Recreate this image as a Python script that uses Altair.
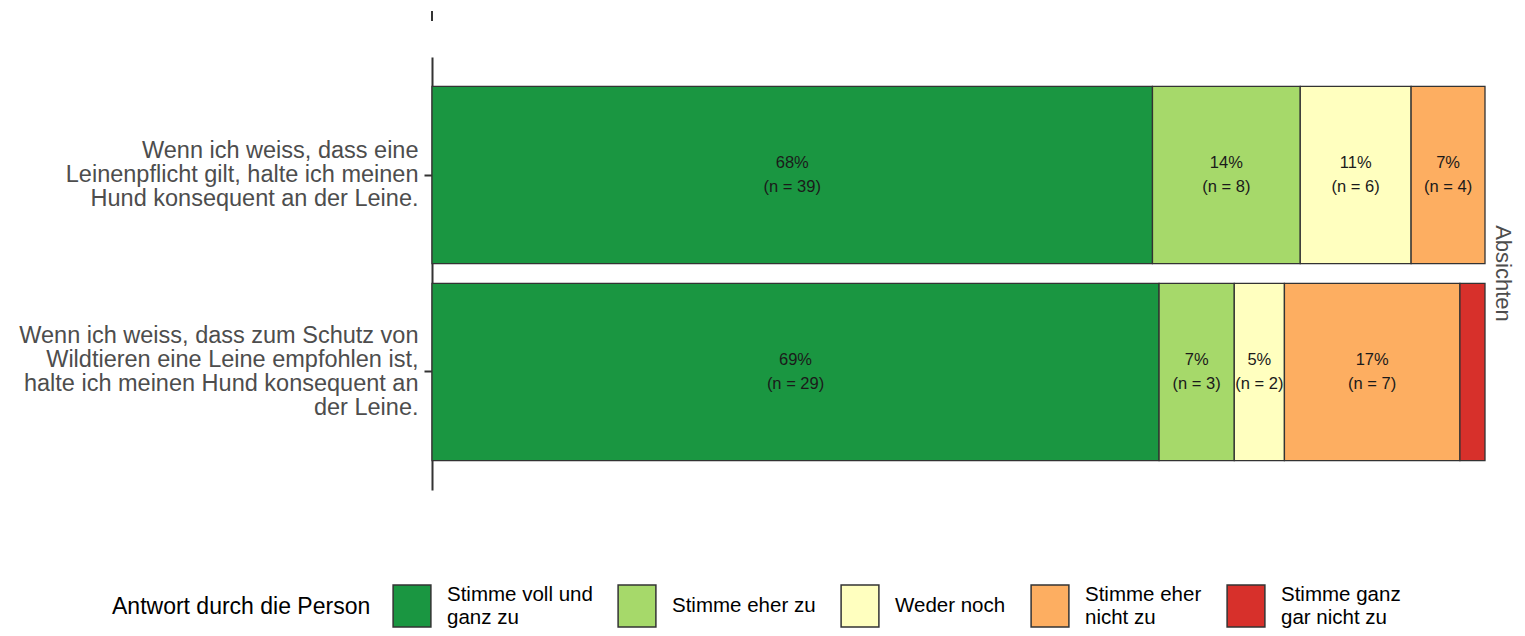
import json
import altair as alt
import pandas as pd

# ---- data ----
question_lines = [
    ["Wenn ich weiss, dass eine", "Leinenpflicht gilt, halte ich meinen", "Hund konsequent an der Leine."],
    ["Wenn ich weiss, dass zum Schutz von", "Wildtieren eine Leine empfohlen ist,",
     "halte ich meinen Hund konsequent an", "der Leine."],
]
questions = [" ".join(l) for l in question_lines]

categories = ["Stimme voll und ganz zu", "Stimme eher zu", "Weder noch",
              "Stimme eher nicht zu", "Stimme ganz gar nicht zu"]
legend_lines = [["Stimme voll und", "ganz zu"], ["Stimme eher zu"], ["Weder noch"],
                ["Stimme eher", "nicht zu"], ["Stimme ganz", "gar nicht zu"]]
colors = ["#1a9641", "#a6d96a", "#ffffbf", "#fdae61", "#d7302b"]

counts_q1 = [39, 8, 6, 4, 0]
counts_q2 = [29, 3, 2, 7, 1]
counts = [counts_q1, counts_q2]

facet_label = ["Absichten"]

rows = []
for qi, q in enumerate(questions):
    for ci, c in enumerate(categories):
        if counts[qi][ci] > 0:
            rows.append({"question": q, "category": c, "order": ci, "count": counts[qi][ci]})
df = pd.DataFrame(rows)


def label_map(keys, lines_list):
    expr = ""
    for k, lines in zip(keys, lines_list):
        expr += f"datum.label == {json.dumps(k)} ? {json.dumps(lines)} : "
    return expr + "datum.label"


multi_line_cats = [c for c, l in zip(categories, legend_lines) if len(l) > 1]
legend_baseline_expr = (
    "indexof(" + json.dumps(multi_line_cats) + ", datum.label) >= 0 ? 'line-bottom' : 'middle'"
)

W, H = 1053, 433
FONT = "Liberation Sans"
LH = 24

y_enc = alt.Y(
    "question:N",
    sort=questions,
    scale=alt.Scale(paddingInner=0.1, paddingOuter=0.149),
    axis=alt.Axis(
        title=None,
        labelExpr=label_map(questions, question_lines),
        labelFontSize=23.5,
        labelLineHeight=LH,
        labelColor="#4d4d4d",
        labelFont=FONT,
        labelPadding=6,
        labelLimit=600,
        labelOffset={
            "condition": {"test": f"datum.value === {json.dumps(questions[0])}",
                          "value": -LH * (len(question_lines[0]) - 1) / 2},
            "value": -LH * (len(question_lines[1]) - 1) / 2,
        },
        tickSize=8,
        tickWidth=2,
        tickColor="#333333",
        domainColor="#333333",
        domainWidth=2,
        grid=False,
    ),
)

base = (
    alt.Chart(df)
    .transform_joinaggregate(total="sum(count)", groupby=["question"])
    .transform_calculate(pct="datum.count / datum.total")
    .transform_stack(stack="pct", groupby=["question"], as_=["x0", "x1"],
                     sort=[alt.SortField("order", order="ascending")])
    .transform_calculate(
        mid="(datum.x0 + datum.x1) / 2",
        label="format(datum.pct, '.0%') + '\\n(n = ' + datum.count + ')'",
    )
)

bars = base.mark_bar(stroke="#333333", strokeWidth=1.3).encode(
    x=alt.X("x0:Q", scale=alt.Scale(domain=[0, 1], nice=False, zero=True), axis=None),
    x2="x1:Q",
    y=y_enc,
    color=alt.Color(
        "category:N",
        scale=alt.Scale(domain=categories, range=colors),
        legend=alt.Legend(
            title="Antwort durch die Person",
            orient="none",
            legendX=-320,
            legendY=527,
            direction="horizontal",
            columns=5,
            titleOrient="left",
            titleFontSize=23,
            titleFontWeight="normal",
            titleColor="#000000",
            titleFont=FONT,
            titlePadding=19,
            titleLimit=600,
            titleBaseline="middle",
            labelExpr=label_map(categories, legend_lines),
            labelBaseline=alt.ExprRef(expr=legend_baseline_expr),
            labelFontSize=20.5,
            labelFont=FONT,
            labelColor="#000000",
            labelOffset=13,
            labelLimit=400,
            columnPadding=22,
            symbolType="M-0.9,-1H0.9V1H-0.9Z",
            symbolSize=1764,
            symbolStrokeColor="#333333",
            symbolStrokeWidth=1.5,
            symbolOpacity=1,
            padding=0,
        ),
    ),
)

texts = base.transform_filter("datum.pct >= 0.04").mark_text(
    fontSize=16.5, lineBreak="\n", lineHeight=24, dy=-12, color="#1a1a1a", font=FONT,
    baseline="middle"
).encode(
    x=alt.X("mid:Q"),
    y=alt.Y("question:N", sort=questions),
    text="label:N",
)

strip = alt.Chart(pd.DataFrame({"t": facet_label})).mark_text(
    angle=90, fontSize=22, color="#4d4d4d", font=FONT, baseline="middle", align="center"
).encode(
    x=alt.value(W + 18),
    y=alt.value(H / 2),
    text="t:N",
)

top_tick = alt.Chart(pd.DataFrame({"t": ["tick"]})).mark_rule(
    color="#333333", strokeWidth=2
).encode(
    x=alt.value(0),
    y=alt.value(-46),
    y2=alt.value(-36),
)

chart = (
    alt.layer(bars, texts, strip, top_tick)
    .properties(
        width=W,
        height=H,
        autosize=alt.AutoSizeParams(type="none"),
        padding={"left": 424, "top": 49, "right": 32, "bottom": 138},
    )
    .configure(font=FONT)
    .configure_view(stroke="transparent", strokeWidth=0)
)

chart.save("out.html", embed_options={"renderer": "svg", "actions": False})
